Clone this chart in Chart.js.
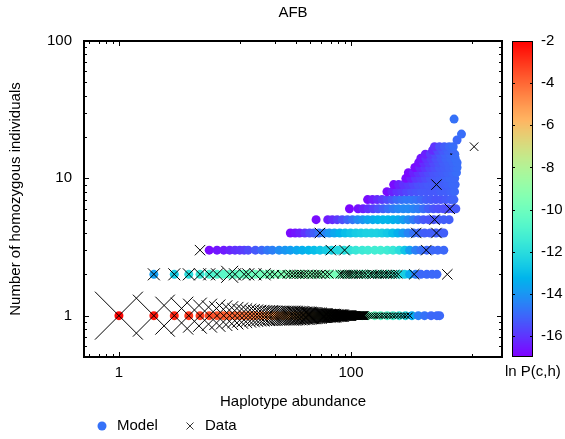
<!DOCTYPE html>
<html>
<head>
<meta charset="utf-8">
<title>AFB</title>
<script src="https://cdn.jsdelivr.net/npm/chart.js@4.4.1/dist/chart.umd.min.js"></script>
<style>
  html, body { margin: 0; padding: 0; background: #fff; }
  #caixa { width: 565px; height: 439px; }
</style>
</head>
<body>
<div id="caixa"><canvas id="afb"></canvas></div>
<script>
// modelo: uma linha por numero de homozigotos (y), x = abundancia, v = ln P(c,h)
const linhasY = [1, 2, 3, 4, 5, 6, 7, 8, 9, 10, 11, 12, 13, 14, 15, 16, 17]

const m1x = [1,2,3,4,5,6,7,8,9,10,11,12,13,14,15,17,19,21,23,26,29,33,37,42,47,53,60,68,77,87,98,110,125,140,160,180,205,230,260,295,335,380,430,490,550,580]
const m1v = [-2.1,-2.4,-2.7,-3.0,-3.2,-3.4,-3.6,-3.8,-3.9,-4.0,-4.1,-4.2,-4.3,-4.4,-4.5,-4.6,-4.8,-5.0,-5.1,-5.3,-5.5,-5.7,-5.9,-6.2,-6.5,-6.9,-7.3,-7.7,-8.1,-8.5,-8.9,-9.3,-9.6,-9.9,-10.2,-10.5,-10.8,-11.1,-11.5,-12.2,-13.5,-14.5,-14.8,-15.0,-15.0,-15.0]

const m2x = [2,3,4,5,6,7,8,9,10,11,12,13,15,17,19,21,24,27,30,34,38,43,48,54,61,68,77,87,98,110,125,140,160,180,205,230,260,290,320,360,400,450,500,550]
const m2v = [-13.8,-12.6,-12.0,-11.5,-11.1,-10.8,-10.6,-10.5,-10.4,-10.3,-10.2,-10.1,-10.0,-9.9,-9.8,-9.7,-9.6,-9.5,-9.5,-9.5,-9.5,-9.5,-9.5,-9.5,-9.6,-9.7,-9.8,-9.9,-10.0,-10.1,-10.2,-10.3,-10.4,-10.5,-10.7,-11.0,-11.5,-12.5,-13.5,-14.5,-15.0,-15.0,-15.0,-15.0]

const m3x = [6,7,8,9,10,11,12,13,15,17,19,21,24,27,30,34,38,43,48,54,61,68,77,87,98,110,125,140,160,180,205,230,260,290,320,360,400,450,500,560,630]
const m3v = [-16.8,-16.6,-16.5,-16.3,-16.1,-16.0,-15.8,-15.6,-15.3,-15.0,-14.7,-14.5,-14.2,-14.0,-13.8,-13.6,-13.4,-13.2,-13.0,-12.8,-12.6,-12.4,-12.2,-12.0,-11.8,-11.6,-11.5,-11.4,-11.3,-11.3,-11.4,-11.6,-12.0,-12.8,-13.8,-14.5,-14.8,-15.0,-15.0,-15.0,-15.0]

const m4x = [30,33,36,40,44,48,53,59,65,72,80,89,99,110,122,135,150,167,185,205,228,253,280,310,345,385,430,480,540,600,630]
const m4v = [-16.8,-16.6,-16.4,-16.0,-15.6,-15.2,-14.8,-14.4,-14.0,-13.6,-13.3,-13.0,-12.8,-12.6,-12.5,-12.4,-12.4,-12.4,-12.5,-12.7,-13.0,-13.4,-13.9,-14.4,-14.8,-15.0,-15.2,-15.2,-15.2,-15.2,-15.2]

const m5x = [50,63,69,76,84,93,103,114,126,139,154,170,188,208,230,254,281,311,344,380,420,465,515,570,630,700]
const m5v = [-16.8,-16.5,-16.2,-15.9,-15.5,-15.1,-14.7,-14.3,-14.0,-13.7,-13.5,-13.3,-13.2,-13.2,-13.3,-13.5,-13.8,-14.2,-14.6,-15.0,-15.3,-15.4,-15.4,-15.3,-15.2,-15.2]

const m6x = [97,115,127,140,155,171,189,209,231,255,282,311,344,380,420,464,513,566,625,690,760,800]
const m6v = [-16.9,-16.7,-16.4,-16.1,-15.8,-15.5,-15.2,-14.9,-14.6,-14.4,-14.3,-14.3,-14.4,-14.6,-14.9,-15.2,-15.4,-15.5,-15.5,-15.5,-15.4,-15.3]

const m7x = [139,153,168,185,204,225,248,273,301,332,366,403,444,489,539,594,655,722,770]
const m7v = [-16.8,-16.5,-16.2,-15.9,-15.6,-15.3,-15.0,-14.8,-14.7,-14.7,-14.8,-15.0,-15.2,-15.3,-15.4,-15.4,-15.3,-15.2,-15.1]

const m8x = [204,225,248,273,301,332,366,403,444,489,539,594,655,722,780]
const m8v = [-16.8,-16.4,-16.1,-15.9,-15.7,-15.5,-15.4,-15.3,-15.3,-15.3,-15.3,-15.2,-15.2,-15.1,-15.0]

const m9x = [233,257,283,312,344,379,418,461,508,560,617,680,750,790]
const m9v = [-16.8,-16.4,-16.1,-15.9,-15.7,-15.5,-15.4,-15.3,-15.3,-15.2,-15.2,-15.1,-15.0,-15.0]

const m10x = [297,327,360,397,437,482,531,585,645,711,783]
const m10v = [-16.8,-16.4,-16.0,-15.8,-15.6,-15.4,-15.3,-15.2,-15.1,-15.0,-15.0]

const m11x = [312,344,379,418,461,508,560,617,680,750,810]
const m11v = [-16.8,-16.4,-16.1,-15.8,-15.6,-15.4,-15.3,-15.2,-15.1,-15.0,-14.9]

const m12x = [355,391,431,475,524,577,636,701,773,820]
const m12v = [-16.8,-16.3,-16.0,-15.7,-15.5,-15.3,-15.2,-15.1,-15.0,-14.9]

const m13x = [383,422,465,513,565,623,687,757,820]
const m13v = [-16.7,-16.2,-15.9,-15.6,-15.4,-15.2,-15.1,-15.0,-14.9]

const m14x = [400,441,486,536,591,651,718,790]
const m14v = [-16.6,-16.1,-15.8,-15.5,-15.3,-15.1,-15.0,-14.9]

const m15x = [437,482,531,585,645,711,784]
const m15v = [-16.4,-15.9,-15.6,-15.3,-15.1,-15.0,-14.9]

const m16x = [505,557,614,677,746]
const m16v = [-16.2,-15.6,-15.3,-15.1,-15.0]

const m17x = [524,578,637,702,760]
const m17v = [-16.0,-15.5,-15.2,-15.0,-14.9]

// pontos soltos no topo
const mSoltosX = [773, 820, 895]
const mSoltosY = [27, 19, 21]
const mSoltosV = [-14.8, -15.0, -14.9]

// dados observados; n = quantidade (define o tamanho da cruz)
const d1x = [1,2,3,4,5,6,7,8,9,10,11,12,13,14,15,16,17,18,19,20,21,22,23,24,25,26,27,28,29,30,
    31,32,33,34,35,36,37,38,39,40,41,42,43,44,45,46,47,48,49,50,51,52,53,54,55,56,57,58,59,60,
    61,62,63,64,65,66,67,68,69,70,71,72,73,74,75,76,77,78,79,80,81,82,83,84,85,86,87,88,89,90,
    91,92,93,94,95,96,97,98,99,100,101,102,103,104,105,106,107,108,109,110,
    111,112,113,114,115,116,117,118,119,120,121,122,123,124,125,126,127,128,129,130,
    135,141,147,153,160,168,176,185,195,205,216,228,240,255,270,285,300,320]
const d1n = [64,49,40,36,32,29,26,23,21,19,17,16,15,14,13,13,12,12,12,11,11,11,11,11,11,11,11,11,11,11,
    11,10,10,10,10,10,9,9,9,9,9,9,8,8,8,8,8,7,7,7,7,7,7,6,6,6,6,6,6,6,
    5,5,5,5,5,5,5,5,5,5,5,5,4,4,4,4,4,4,4,4,4,4,4,4,4,3,3,3,3,3,
    3,3,3,3,3,3,3,3,3,3,2,2,2,2,2,2,2,2,2,2,
    2,2,2,2,2,2,2,2,2,2,2,2,2,2,2,2,2,2,2,2,
    1,1,1,1,1,1,1,1,1,1,1,1,1,1,1,1,1,1]

const d2x = [2,3,4,5,6,7,9,10,12,13,15,18,20,22,25,28,30,32,34,36,38,40,43,46,49,52,55,60,65,80,84,88,92,96,100,105,110,116,122,128,135,145,152,160,168,176,185,195,205,215,228,240,255,350,676]
const d2n = [4,4,4,4,4,4,8,4,4,4,4,4,2,2,2,2,2,2,2,2,2,2,2,2,2,2,2,2,2,2,2,2,2,2,2,2,2,2,2,2,2,2,2,2,2,2,2,2,2,2,2,2,2,3,3]

const dOutrosX = [5, 67, 88, 445, 54, 365, 545, 525, 710, 545, 730, 1150]
const dOutrosY = [3, 3, 3, 3, 4, 4, 4, 5, 6, 9, 15, 17]
const dOutrosN = [3, 3, 3, 3, 3, 3, 3, 3, 3, 3, 0.05, 2]

const ticksX = [1, 100]
const ticksY = [1, 10, 100]
const ticksCor = [-2, -4, -6, -8, -10, -12, -14, -16]
const menoresX = [0.556, 0.667, 0.778, 0.889, 11.1, 22.2, 33.3, 44.4, 55.6, 66.7, 77.8, 88.9, 1111]
const menoresY = [0.6, 0.7, 0.8, 0.9, 2, 3, 4, 5, 6, 7, 8, 9, 20, 30, 40, 50, 60, 70, 80, 90]


// paleta do gnuplot (rgbformulae 33,13,10), de -17 a -2
function cor_paleta(v){
    let t = Math.min(1, Math.max(0, (v + 17) / 15))
    let r = Math.min(1, Math.abs(2 * t - 0.5))
    let g = Math.sin(Math.PI * t)
    let b = Math.cos(Math.PI * t / 2)
    return `rgb(${Math.round(r * 255)}, ${Math.round(g * 255)}, ${Math.round(b * 255)})`
}

function monta_linha(xs, y, vs){
    return xs.map((x, i) => ({x: x, y: y, v: vs[i]}))
}

function monta_cruzes(xs, ys, ns){
    return xs.map((x, i) => ({x: x, y: Array.isArray(ys) ? ys[i] : ys, n: ns[i]}))
}

const linhasModelo = [[m1x, m1v], [m2x, m2v], [m3x, m3v], [m4x, m4v], [m5x, m5v], [m6x, m6v],
    [m7x, m7v], [m8x, m8v], [m9x, m9v], [m10x, m10v], [m11x, m11v], [m12x, m12v],
    [m13x, m13v], [m14x, m14v], [m15x, m15v], [m16x, m16v], [m17x, m17v]]

var pontosModelo = []
linhasModelo.forEach((l, i) => { pontosModelo = pontosModelo.concat(monta_linha(l[0], linhasY[i], l[1])) })
mSoltosX.forEach((x, i) => pontosModelo.push({x: x, y: mSoltosY[i], v: mSoltosV[i]}))

const pontosDados = monta_cruzes(d1x, 1, d1n)
    .concat(monta_cruzes(d2x, 2, d2n))
    .concat(monta_cruzes(dOutrosX, dOutrosY, dOutrosN))


// moldura com marcas para dentro nos quatro lados
const moldura = {
    id: 'moldura',
    afterDraw(chart){
        const {ctx, chartArea: a, scales} = chart
        ctx.save()
        ctx.strokeStyle = '#000'
        ctx.lineWidth = 1
        ctx.beginPath()
        function marca_x(v, len){
            const px = Math.round(scales.x.getPixelForValue(v)) + 0.5
            ctx.moveTo(px, a.bottom); ctx.lineTo(px, a.bottom - len)
            ctx.moveTo(px, a.top); ctx.lineTo(px, a.top + len)
        }
        function marca_y(v, len){
            const py = Math.round(scales.y.getPixelForValue(v)) + 0.5
            ctx.moveTo(a.left, py); ctx.lineTo(a.left + len, py)
            ctx.moveTo(a.right, py); ctx.lineTo(a.right - len, py)
        }
        ticksX.forEach(v => marca_x(v, 5))
        menoresX.forEach(v => marca_x(v, 3))
        ticksY.forEach(v => marca_y(v, 5))
        menoresY.forEach(v => marca_y(v, 3))
        ctx.stroke()
        ctx.lineWidth = 2
        ctx.strokeRect(a.left, a.top, a.right - a.left, a.bottom - a.top)
        ctx.restore()
    }
}

// barra de cores, rotulo e legenda
const barra_cor = {
    id: 'barra_cor',
    afterDraw(chart){
        const {ctx, chartArea: a} = chart
        const cb = chart.scales.cb
        const x0 = a.right + 10, x1 = a.right + 31
        ctx.save()
        for (let py = Math.floor(cb.top); py < Math.ceil(cb.bottom); py++){
            ctx.fillStyle = cor_paleta(cb.getValueForPixel(py + 0.5))
            ctx.fillRect(x0, py, x1 - x0, 1)
        }
        ctx.strokeStyle = '#000'
        ctx.lineWidth = 1
        ctx.strokeRect(x0 + 0.5, Math.round(cb.top) + 0.5, x1 - x0 - 1, Math.round(cb.bottom - cb.top) - 1)
        ctx.beginPath()
        ticksCor.forEach(v => {
            const py = Math.round(cb.getPixelForValue(v)) + 0.5
            ctx.moveTo(x0, py); ctx.lineTo(x0 + 3, py)
            ctx.moveTo(x1, py); ctx.lineTo(x1 - 3, py)
        })
        ctx.stroke()

        ctx.fillStyle = '#000'
        ctx.font = "15px 'Liberation Sans', Arial, sans-serif"
        ctx.textBaseline = 'middle'
        ctx.textAlign = 'left'
        ctx.fillText('ln P(c,h)', a.right + 3, 372)

        // legenda
        const yl = 426
        ctx.fillStyle = cor_paleta(-14.8)
        ctx.beginPath()
        ctx.arc(102, yl, 4.5, 0, Math.PI * 2)
        ctx.fill()
        ctx.strokeStyle = '#333'
        ctx.beginPath()
        ctx.moveTo(186.5, yl - 3.5); ctx.lineTo(193.5, yl + 3.5)
        ctx.moveTo(193.5, yl - 3.5); ctx.lineTo(186.5, yl + 3.5)
        ctx.stroke()
        ctx.fillStyle = '#000'
        ctx.fillText('Model', 117, yl)
        ctx.fillText('Data', 205, yl)
        ctx.restore()
    }
}

Chart.defaults.font.family = "'Liberation Sans', Arial, sans-serif"
Chart.defaults.font.size = 15
Chart.defaults.color = '#000'

const ctx = document.getElementById('afb').getContext('2d')
const myChart = new Chart(ctx, {
    type: 'scatter',
    data: {
        datasets: [{
            label: 'Data',
            data: pontosDados,
            pointStyle: 'crossRot',
            pointRadius: (c) => c.raw ? 4.24 * Math.sqrt(c.raw.n) : 4,
            borderColor: '#000',
            backgroundColor: 'rgba(0, 0, 0, 0)',
            pointBorderWidth: 1,
            order: 0
        }, {
            label: 'Model',
            data: pontosModelo,
            pointStyle: 'circle',
            pointRadius: 4.5,
            pointBorderWidth: 0,
            pointBackgroundColor: (c) => c.raw ? cor_paleta(c.raw.v) : cor_paleta(-14.8),
            order: 1
        }]
    },
    options: {
        responsive: true,
        maintainAspectRatio: false,
        animation: false,
        devicePixelRatio: 1,
        events: [],
        layout: { padding: { left: 0, right: 0, top: 0, bottom: 28 } },
        plugins: {
            legend: { display: false },
            tooltip: { enabled: false },
            title: {
                display: true,
                text: 'AFB',
                fullSize: false,
                font: { size: 15, weight: 'normal' },
                padding: { top: 4, bottom: 19 }
            }
        },
        scales: {
            x: {
                type: 'logarithmic',
                position: 'bottom',
                min: 0.5,
                max: 2000,
                grid: { display: false, drawTicks: false },
                border: { display: false },
                afterBuildTicks: (s) => { s.ticks = ticksX.map(v => ({value: v})) },
                afterFit: (s) => { s.height = 54; s.paddingLeft = 0; s.paddingRight = 0 },
                ticks: { padding: 7, autoSkip: false, maxRotation: 0, callback: (v) => String(v) },
                title: { display: true, text: 'Haplotype abundance', padding: { top: 0, bottom: 0 } }
            },
            y: {
                type: 'logarithmic',
                position: 'left',
                min: 0.5,
                max: 100,
                grid: { display: false, drawTicks: false },
                border: { display: false },
                afterBuildTicks: (s) => { s.ticks = ticksY.map(v => ({value: v})) },
                afterFit: (s) => { s.width = 84; s.paddingTop = 0; s.paddingBottom = 0 },
                ticks: { padding: 12, autoSkip: false, callback: (v) => String(v) },
                title: { display: true, text: 'Number of homozygous individuals', padding: { top: 7, bottom: 0 } }
            },
            cb: {
                type: 'linear',
                position: 'right',
                min: -17,
                max: -2,
                grid: { display: false, drawTicks: false },
                border: { display: false },
                afterBuildTicks: (s) => { s.ticks = ticksCor.map(v => ({value: v})) },
                afterFit: (s) => { s.width = 63; s.paddingTop = 0; s.paddingBottom = 0 },
                ticks: { padding: 39, autoSkip: false }
            }
        }
    },
    plugins: [moldura, barra_cor]
})
</script>
</body>
</html>
